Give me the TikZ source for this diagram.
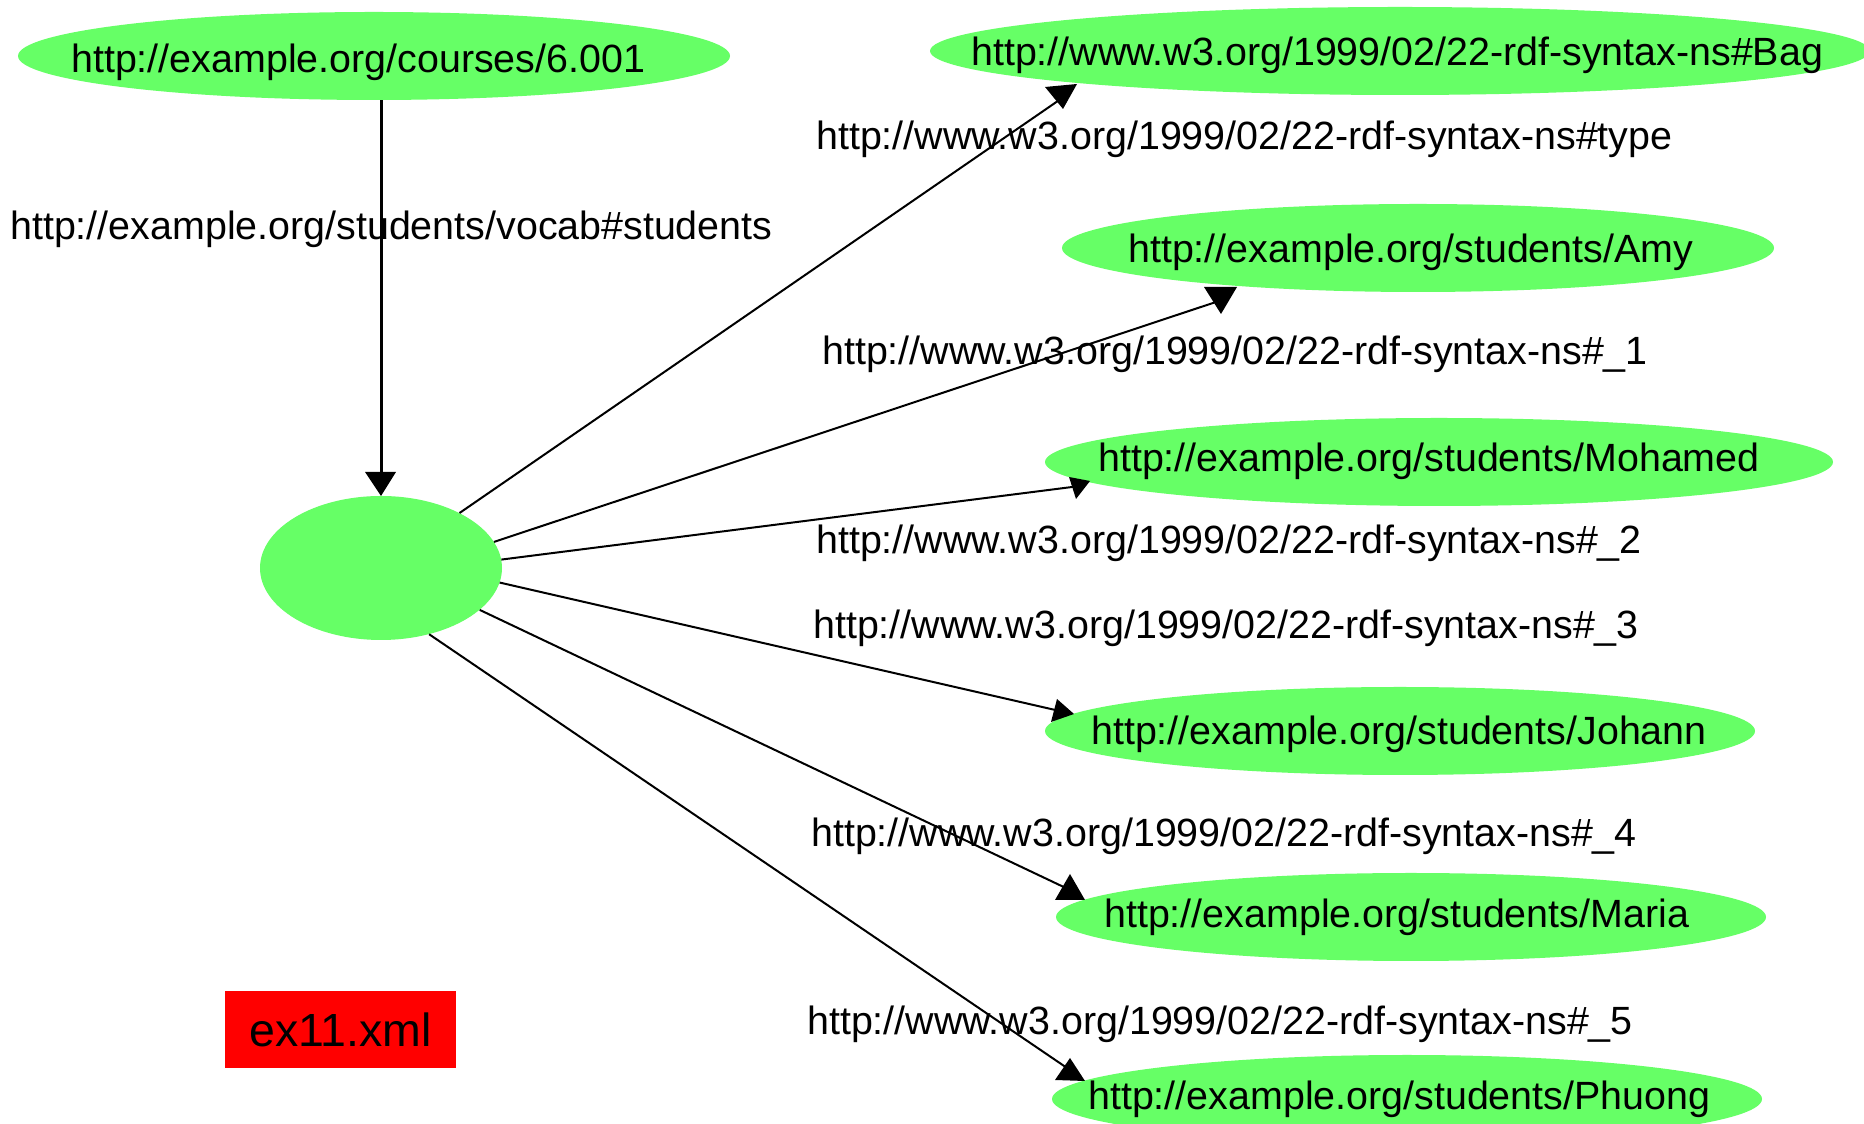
\documentclass[tikz,border=0pt]{standalone}
\usepackage{fontspec}
\setmainfont{Liberation Sans}
\usetikzlibrary{shapes.geometric}
\definecolor{nodegreen}{RGB}{102,255,102}
\definecolor{boxred}{RGB}{255,0,0}
\begin{document}
\begin{tikzpicture}[x=1pt,y=1pt,
  ell/.style={ellipse, fill=nodegreen, draw=none, inner sep=0pt},
  lbl/.style={anchor=base west, inner sep=0pt, font=\fontsize{39.4}{44}\selectfont},
  rel/.style={line width=2pt},
  mainrel/.style={line width=3pt},
  headfill/.style={fill=black}
]
\useasboundingbox (0,0) rectangle (1864,1124);
\fill[white] (0,0) rectangle (1864,1124);

% ellipses
\node[ell, minimum width=712pt, minimum height=88pt] (courses) at (374,1068) {};
\node[ell, minimum width=940pt, minimum height=88pt] (bag) at (1400,1073) {};
\node[ell, minimum width=712pt, minimum height=88pt] (amy) at (1418,876) {};
\node[ell, minimum width=788pt, minimum height=88pt] (moh) at (1439,662) {};
\node[ell, minimum width=710pt, minimum height=88pt] (joh) at (1400,393) {};
\node[ell, minimum width=710pt, minimum height=88pt] (mar) at (1411,207) {};
\node[ell, minimum width=710pt, minimum height=88pt] (phu) at (1407,25) {};
\node[ell, minimum width=242pt, minimum height=144pt] (blank) at (381,556) {};

% node texts
\node[lbl] (tcourses) at (71,1051) {http://example.org/courses/6.001};
\node[lbl] (tbag) at (971,1058) {http://www.w3.org/1999/02/22-rdf-syntax-ns\#Bag};
\node[lbl] (tamy) at (1128,861) {http://example.org/students/Amy};
\node[lbl] (tmoh) at (1098,652) {http://example.org/students/Mohamed};
\node[lbl] (tjoh) at (1091,379) {http://example.org/students/Johann};
\node[lbl] (tmar) at (1104,196) {http://example.org/students/Maria};
\node[lbl] (tphu) at (1088,14) {http://example.org/students/Phuong};

% arrow-end points (at the arrowheads beside each target)
\coordinate (hblank) at (381,644);
\coordinate (hbag) at (1068,1030);
\coordinate (hamy) at (1222,824);
\coordinate (hmoh) at (1080,638);
\coordinate (hjoh) at (1064,412);
\coordinate (hmar) at (1070,234);
\coordinate (hphu) at (1070,54);

% connectors
\draw[mainrel] (blank.north |- courses.south) -- (hblank);
\draw[rel] (blank.35.5) -- (hbag);
\draw[rel] (blank.13.6) -- (hamy);
\draw[rel] (blank.4.5) -- (hmoh);
\draw[rel] (blank.-7.7) -- (hjoh);
\draw[rel] (blank.-23.8) -- (hmar);
\draw[rel] (blank.-54) -- (hphu);

% arrowheads
\fill[headfill] (365,652) -- (396,652) -- (381,628) -- cycle;
\fill[headfill] (1045,1037) -- (1077,1040) -- (1063,1015) -- cycle;
\fill[headfill] (1204,837) -- (1237,837) -- (1221,810) -- cycle;
\fill[headfill] (1069,647) -- (1090,643) -- (1076,625) -- cycle;
\fill[headfill] (1057,425) -- (1074,410) -- (1051,402) -- cycle;
\fill[headfill] (1070,250) -- (1055,224) -- (1085,224) -- cycle;
\fill[headfill] (1070,66) -- (1055,44) -- (1085,43) -- cycle;

% edge labels
\node[lbl] (lvocab) at (10,884) {http://example.org/students/vocab\#students};
\node[lbl] (ltype) at (816,974) {http://www.w3.org/1999/02/22-rdf-syntax-ns\#type};
\node[lbl] (l1) at (822,759) {http://www.w3.org/1999/02/22-rdf-syntax-ns\#\_1};
\node[lbl] (l2) at (816,570) {http://www.w3.org/1999/02/22-rdf-syntax-ns\#\_2};
\node[lbl] (l3) at (813,485) {http://www.w3.org/1999/02/22-rdf-syntax-ns\#\_3};
\node[lbl] (l4) at (811,277) {http://www.w3.org/1999/02/22-rdf-syntax-ns\#\_4};
\node[lbl] (l5) at (807,89) {http://www.w3.org/1999/02/22-rdf-syntax-ns\#\_5};

% file box
\node[fill=boxred, minimum width=231pt, minimum height=77pt, inner sep=0pt,
      font=\fontsize{46.5}{52}\selectfont] (file) at (340.5,94.5) {ex11.xml};
\end{tikzpicture}
\end{document}
